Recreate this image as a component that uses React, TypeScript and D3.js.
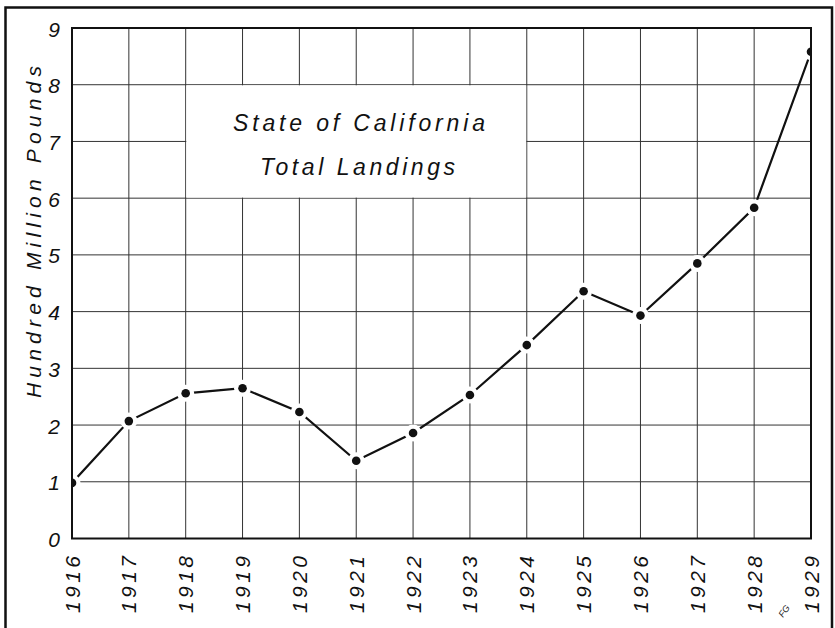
import React from 'react';
import * as d3 from 'd3';

const years = [1916, 1917, 1918, 1919, 1920, 1921, 1922, 1923, 1924, 1925, 1926, 1927, 1928, 1929];
const landings = [0.98, 2.07, 2.56, 2.65, 2.23, 1.37, 1.86, 2.53, 3.41, 4.36, 3.93, 4.85, 5.83, 8.58];
const yTicks = [0, 1, 2, 3, 4, 5, 6, 7, 8, 9];
const titleLines = ['State of California', 'Total Landings'];
const yAxisTitle = 'Hundred Million Pounds';

const FONT = '"Liberation Sans", "DejaVu Sans", sans-serif';

export default function App() {
  const W = 835;
  const H = 628;
  const x = d3.scaleLinear().domain([1916, 1929]).range([72, 811]);
  const y = d3.scaleLinear().domain([0, 9]).range([538.5, 28]);
  const pts = years.map((yr, i) => [x(yr), y(landings[i])] as [number, number]);
  const linePath = d3.line()(pts) || '';

  const x0 = x(1916), x1 = x(1929), yTop = y(9), yBot = y(0);
  const boxX0 = x(1918), boxX1 = x(1924), boxY0 = y(8), boxY1 = y(6);
  const grid = '#333';

  return (
    <svg
      width={W}
      height={H}
      viewBox={`0 0 ${W} ${H}`}
      style={{ position: 'absolute', left: 0, top: 0, display: 'block', background: '#fff' }}
    >
      <rect x={0} y={0} width={W} height={H} fill="#fff" />
      <defs>
        <clipPath id="plotClip">
          <rect x={x0} y={yTop} width={x1 - x0} height={yBot - yTop} />
        </clipPath>
      </defs>
      {/* outer frame */}
      <path d={`M5.5,${H + 5} V7.5 H832 V${H + 5}`} fill="none" stroke="#111" strokeWidth={2.5} />

      {/* grid */}
      {yTicks.map(t => (
        <line key={'h' + t} x1={x0} x2={x1} y1={y(t)} y2={y(t)} stroke={grid} strokeWidth={1} />
      ))}
      {years.map(yr => (
        <line key={'v' + yr} x1={x(yr)} x2={x(yr)} y1={yTop} y2={yBot} stroke={grid} strokeWidth={1} />
      ))}
      {/* title box blanks the grid */}
      <rect x={boxX0 + 0.6} y={boxY0 + 0.6} width={boxX1 - boxX0 - 1.2} height={boxY1 - boxY0 - 1.2} fill="#fff" />

      {/* plot frame */}
      <rect x={x0} y={yTop} width={x1 - x0} height={yBot - yTop} fill="none" stroke="#111" strokeWidth={2} />

      {/* data */}
      <g clipPath="url(#plotClip)">
        <path d={linePath} fill="none" stroke="#111" strokeWidth={2.2} />
        {pts.map((p, i) => (
          <circle key={'w' + i} cx={p[0]} cy={p[1]} r={8.5} fill="#fff" />
        ))}
        {pts.map((p, i) => (
          <circle key={'d' + i} cx={p[0]} cy={p[1]} r={4.3} fill="#111" />
        ))}
      </g>
      {/* re-draw frame edges over halos */}
      <line x1={x0} x2={x0} y1={yTop} y2={yBot} stroke="#111" strokeWidth={2} />
      <line x1={x1} x2={x1} y1={yTop} y2={yBot} stroke="#111" strokeWidth={2} />

      {/* title */}
      <text x={233} y={131} fontFamily={FONT} fontStyle="italic" fontSize={23} fill="#111"
        textLength={252} lengthAdjust="spacing">{titleLines[0]}</text>
      <text x={260} y={175} fontFamily={FONT} fontStyle="italic" fontSize={23} fill="#111"
        textLength={195} lengthAdjust="spacing">{titleLines[1]}</text>

      {/* y tick labels */}
      {yTicks.map(t => (
        <text key={'yl' + t} x={60} y={y(t) + 8.5} textAnchor="end" fontFamily={FONT}
          fontStyle="italic" fontSize={21} fill="#111">{t}</text>
      ))}

      {/* x tick labels */}
      {years.map(yr => (
        <text key={'xl' + yr} transform={`translate(${x(yr) + 7.5},613) rotate(-90)`}
          fontFamily={FONT} fontStyle="italic" fontSize={21} fill="#111"
          textLength={57} lengthAdjust="spacing">{yr}</text>
      ))}

      {/* y axis title */}
      <text transform={`translate(41,398) rotate(-90)`} fontFamily={FONT} fontStyle="italic"
        fontSize={21} fill="#111" textLength={332} lengthAdjust="spacing">{yAxisTitle}</text>

      {/* small draftsman's mark */}
      <text transform="translate(783,618) rotate(-55)" fontFamily={FONT} fontStyle="italic"
        fontSize={9} fill="#222">FG</text>
    </svg>
  );
}
